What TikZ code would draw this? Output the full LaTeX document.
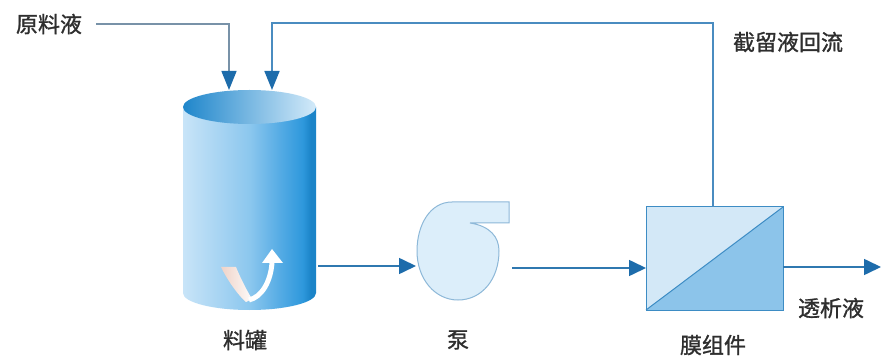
\documentclass[tikz,border=0pt]{standalone}
\usepackage{fontspec}
\newfontfamily\cjk[FakeBold=1.2]{Noto Sans CJK SC}
\usetikzlibrary{arrows.meta}

\definecolor{txt}{HTML}{2E2E2E}
\definecolor{feedline}{HTML}{7892A8}
\definecolor{flowline}{HTML}{2F78B0}
\definecolor{returnline}{HTML}{4A8CC0}
\definecolor{tipblue}{HTML}{1D6CAB}
\definecolor{bodyA}{HTML}{C8E4F8}
\definecolor{bodyB}{HTML}{8CC7EE}
\definecolor{bodyC}{HTML}{52AAE4}
\definecolor{bodyD}{HTML}{2E98DC}
\definecolor{bodyE}{HTML}{1B84C8}
\definecolor{lidA}{HTML}{1F86CB}
\definecolor{lidB}{HTML}{D3EAF9}
\definecolor{pumpfill}{HTML}{DCEEFA}
\definecolor{pumpline}{HTML}{8DB8D8}
\definecolor{memlight}{HTML}{D3E8F7}
\definecolor{memdark}{HTML}{8CC4EA}
\definecolor{memline}{HTML}{3D8CC4}
\definecolor{swirl}{HTML}{EFD3C8}

% side wall of the tank: light on the left, darkening towards the right edge
\pgfdeclarehorizontalshading{tankwall}{100bp}{%
  color(0bp)=(bodyA); color(25bp)=(bodyA); color(50bp)=(bodyB);
  color(62bp)=(bodyC); color(70bp)=(bodyD); color(73bp)=(bodyE);
  color(75bp)=(bodyE); color(100bp)=(bodyE)}
% liquid surface seen from above
\pgfdeclarehorizontalshading{tanklid}{100bp}{%
  color(0bp)=(lidA); color(25bp)=(lidA); color(75bp)=(lidB); color(100bp)=(lidB)}

\tikzset{
  label/.style={font=\cjk\fontsize{22}{22}\selectfont, text=txt, inner sep=0pt},
  flow/.style={draw=flowline, line width=1.6pt,
    -{Triangle[length=17pt,width=16pt,color=tipblue]}},
  feed/.style={draw=feedline, line width=1.4pt,
    -{Triangle[length=19pt,width=15pt,color=tipblue]}},
  back/.style={draw=returnline, line width=1.6pt,
    -{Triangle[length=19pt,width=15pt,color=tipblue]}},
}

\begin{document}
\begin{tikzpicture}[x=1pt,y=1pt]
\fill[white] (0,0) rectangle (889,359);
\useasboundingbox (0,0) rectangle (889,359);

% ---- feed tank ----
\shade[shading=tankwall] (183,252) -- (183,66)
  arc[start angle=180, end angle=360, x radius=66.5, y radius=17] -- (316,252) -- cycle;
\shade[shading=tanklid] (249.5,252) ellipse[x radius=66.5, y radius=17];
% stirring swirl inside the tank
\shade[left color=swirl, right color=white!90!swirl]
  (221,92) .. controls (229,76) and (239,63) .. (246,57)
  -- (252,60) .. controls (246,70) and (240,82) .. (236,92) -- cycle;
\draw[white, line width=5pt]
  (249,59) .. controls (262,62) and (271,78) .. (272,97);
\fill[white] (262,96) -- (283,96) -- (272,110) -- cycle;
\coordinate (tankL) at (229,269);
\coordinate (tankR) at (272,269);
\coordinate (tankOut) at (318,93);

% ---- pump ----
\draw[pumpline, fill=pumpfill, line width=1pt]
  (509,136) -- (509,157) -- (452,157)
  .. controls (430,157) and (417,134) .. (417,108)
  .. controls (417,80) and (435,59) .. (458,59)
  .. controls (482,59) and (499,80) .. (499,108)
  .. controls (499,122) and (490,133) .. (470,136) -- cycle;
\coordinate (pumpIn) at (416,93);
\coordinate (pumpOut) at (512,91);

% ---- membrane module ----
\fill[memlight] (646,49) -- (783,152) -- (646,152) -- cycle;
\fill[memdark] (646,49) -- (783,49) -- (783,152) -- cycle;
\draw[memline, line width=1pt] (646,49) rectangle (783,152);
\draw[memline, line width=1pt] (646,49) -- (783,152);
\coordinate (memIn) at (646,91);
\coordinate (memTop) at (713,152);
\coordinate (memOut) at (783,92);
\coordinate (permEnd) at (881,92);

% ---- labels ----
\node[label] (feedText) at (49,335) {原料液};
\node[label] (tankText) at (245,19) {料罐};
\node[label] (pumpText) at (458,19) {泵};
\node[label] (memText) at (713,14) {膜组件};
\node[label] (permText) at (831,51) {透析液};
\node[label] (retText) at (788,317) {截留液回流};

% ---- connectors ----
\draw[feed] (feedText.east) ++(14,0) -| (tankL);
\draw[back] (memTop) |- (713,336) -| (tankR);
\draw[flow] (tankOut) -- (pumpIn);
\draw[flow] (pumpOut) -- (memIn);
\draw[flow] (memOut) -- (permEnd);
\end{tikzpicture}
\end{document}
